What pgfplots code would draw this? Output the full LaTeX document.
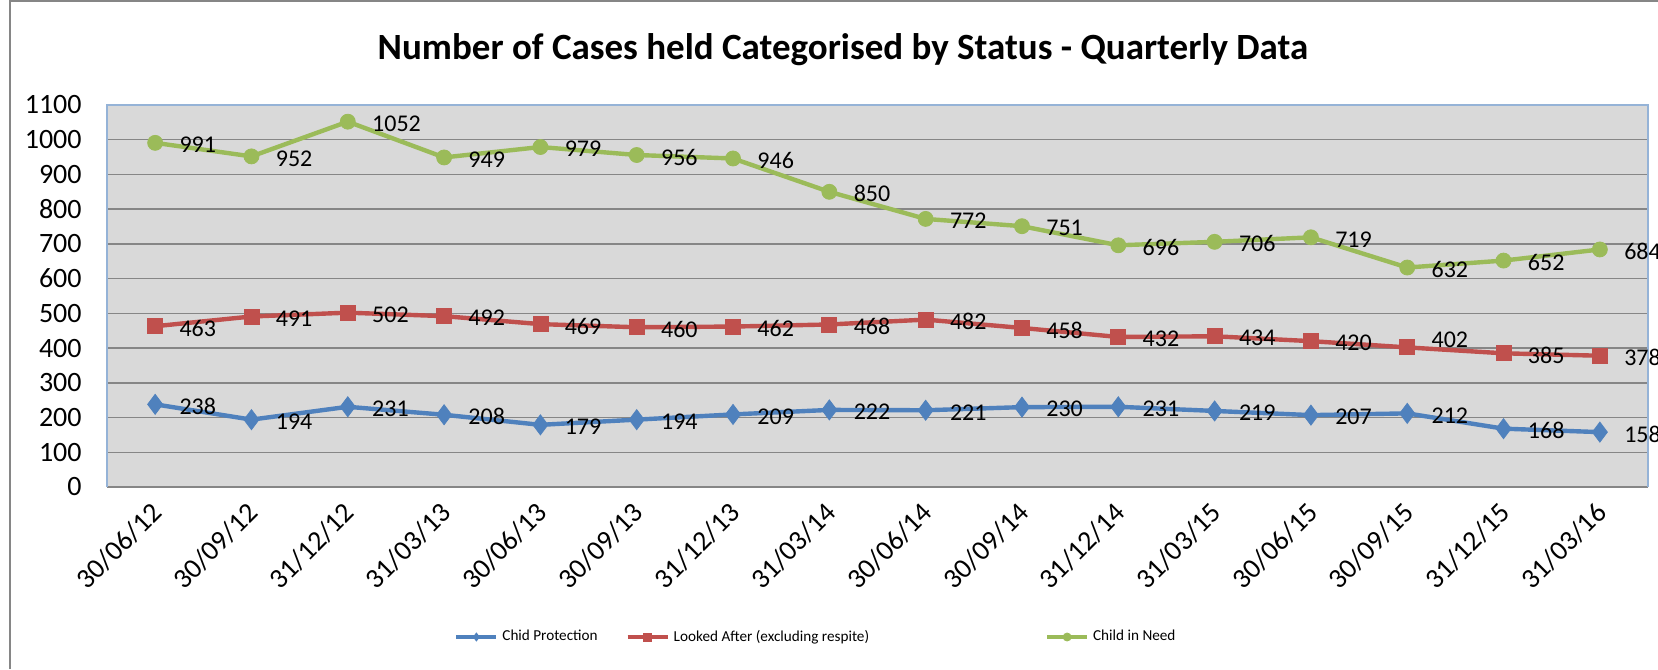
\documentclass[border=0pt]{standalone}
\usepackage{fontspec}
\setmainfont{Carlito}
\usepackage{pgfplots}
\pgfplotsset{compat=1.18}
\definecolor{cp}{RGB}{79,129,189}
\definecolor{la}{RGB}{192,80,77}
\definecolor{cin}{RGB}{155,187,89}
\definecolor{bg}{RGB}{217,217,217}
\definecolor{gridc}{RGB}{134,134,134}
\definecolor{framec}{RGB}{149,179,215}
\definecolor{outerc}{RGB}{134,134,134}

\pgfplotstableread{
x y
0 238
1 194
2 231
3 208
4 179
5 194
6 209
7 222
8 221
9 230
10 231
11 219
12 207
13 212
14 168
15 158
}\cpdata
\pgfplotstableread{
x y dy
0 463 0
1 491 0
2 502 0
3 492 0
4 469 0
5 460 0
6 462 0
7 468 0
8 482 0
9 458 0
10 432 0
11 434 0
12 420 0
13 402 5
14 385 0
15 378 0
}\ladata
\pgfplotstableread{
x y
0 991
1 952
2 1052
3 949
4 979
5 956
6 946
7 850
8 772
9 751
10 696
11 706
12 719
13 632
14 652
15 684
}\cindata

\begin{document}
\begin{tikzpicture}
\useasboundingbox (-53.5pt,-91pt) rectangle (775.5pt,243.5pt);
\draw[outerc, line width=1pt] (-48.5pt,-91pt) -- (-48.5pt,243pt) -- (775.5pt,243pt);
\begin{axis}[
 at={(0pt,0pt)}, anchor=south west,
 scale only axis, width=770.5pt, height=191pt,
 xmin=-0.5, xmax=15.5, ymin=0, ymax=1100,
 ytick={0,100,...,1100},
 xtick={0,...,15},
 xticklabels={30/06/12,30/09/12,31/12/12,31/03/13,30/06/13,30/09/13,31/12/13,31/03/14,30/06/14,30/09/14,31/12/14,31/03/15,30/06/15,30/09/15,31/12/15,31/03/16},
 major tick length=0pt,
 axis line style={draw=none},
 axis background/.style={fill=bg},
 ymajorgrids, major grid style={gridc, line width=0.75pt},
 /pgf/number format/assume math mode=true,
 /pgf/number format/1000 sep={},
 tick label style={font=\fontsize{14}{16}\selectfont},
 yticklabel style={inner sep=0pt, anchor=east, xshift=-12.5pt},
 xticklabel style={inner sep=0pt, xshift=1pt, yshift=-10.5pt, rotate=45, anchor=east},
 clip=false,
 nodes near coords,
 nodes near coords style={font=\fontsize{12}{14}\selectfont, anchor=west, inner sep=0pt, xshift=12pt, yshift=-1pt, text=black},
 every axis plot/.append style={line width=2.2pt},
 legend style={at={(0.4607,-0.3927)}, anchor=center, draw=none, fill=none, legend columns=3, font=\fontsize{7.6}{9}\selectfont,
   /tikz/column 2/.style={column sep=12pt}, /tikz/column 4/.style={column sep=86pt}},
 legend image code/.code={\draw[mark repeat=2, mark phase=2, #1, line width=2pt, mark size=2pt] plot coordinates {(0pt,0pt) (10pt,0pt) (20pt,0pt)};},
]
\addplot[color=cp, mark=diamond*, mark size=5pt, mark options={line width=0.4pt, fill=cp}] table[x=x,y=y] {\cpdata};
\addlegendentry{Chid Protection}
\addplot[color=la, mark=square*, mark size=3.75pt, mark options={line width=0.4pt, fill=la},
  visualization depends on={\thisrow{dy}\as\dy},
  every node near coord/.append style={yshift=\dy pt}] table[x=x,y=y] {\ladata};
\addlegendentry{Looked After (excluding respite)}
\addplot[color=cin, mark=*, mark size=3.75pt, mark options={line width=0.4pt, fill=cin}] table[x=x,y=y] {\cindata};
\addlegendentry{Child in Need}
\draw[framec, line width=0.6pt] (rel axis cs:0,0) -- (rel axis cs:0,1) -- (rel axis cs:1,1) -- (rel axis cs:1,0);
\end{axis}
\node[font=\bfseries\fontsize{18.5}{22}\selectfont] at (368pt,218.5pt) {Number of Cases held Categorised by Status - Quarterly Data};
\end{tikzpicture}
\end{document}
